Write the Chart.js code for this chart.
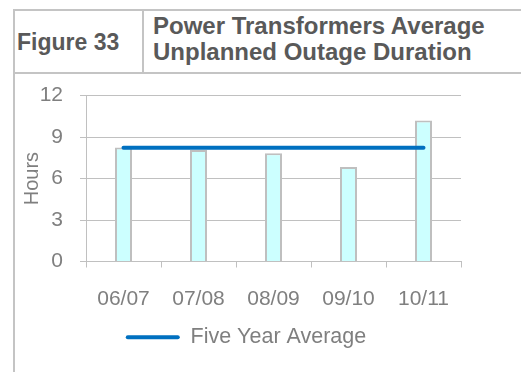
<!DOCTYPE html>
<html>
<head>
<meta charset="utf-8">
<script src="https://cdn.jsdelivr.net/npm/chart.js@4"></script>
<style>
  html, body { margin: 0; padding: 0; background: #fff; }
  body { width: 521px; height: 372px; position: relative; overflow: hidden; font-family: "Liberation Sans", Arial, sans-serif; }
  .rule { position: absolute; background: #c4c4c4; }
  .head { position: absolute; color: #595959; font-weight: bold; font-size: 23px; line-height: 26px; white-space: nowrap; }
  /* canvas is transparent, so it may overlap the header rule above it */
  #chartBox { position: absolute; left: 15px; top: 66px; width: 462px; height: 306px; }
</style>
</head>
<body>
<!-- header table lines -->
<div class="rule" style="left:14px; top:9px; width:507px; height:2px;"></div>
<div class="rule" style="left:14px; top:72px; width:507px; height:2px;"></div>
<div class="rule" style="left:13px; top:9px; width:2px; height:363px;"></div>
<div class="rule" style="left:142px; top:9px; width:2px; height:65px;"></div>
<div class="head" style="left:17px; top:29px;">Figure 33</div>
<div class="head" style="left:153px; top:13px; font-size:24px;">Power Transformers Average<br>Unplanned Outage Duration</div>

<div id="chartBox"><canvas id="outageChart" width="462" height="306"></canvas></div>

<script>
const years = ["06/07", "07/08", "08/09", "09/10", "10/11"];
const outageHours = [8.24, 8.07, 7.83, 6.83, 10.2];
const fiveYearAverage = [8.23, 8.23, 8.23, 8.23, 8.23];
const hourTicks = [0, 3, 6, 9, 12];

const greyText = "#7f7f7f";
const gridGrey = "#c0c0c0";
const fontFamily = "'Liberation Sans', Arial, sans-serif";

const ctx = document.getElementById("outageChart").getContext("2d");

new Chart(ctx, {
    type: "bar",
    data: {
        labels: years,
        datasets: [
            {
                type: "line",
                label: "Five Year Average",
                data: fiveYearAverage,
                borderColor: "#0070c0",
                backgroundColor: "#0070c0",
                borderWidth: 4,
                borderCapStyle: "round",
                pointRadius: 0,
                order: 0
            },
            {
                label: "Outage Duration",
                data: outageHours,
                backgroundColor: "#ccffff",
                borderColor: "#bfbfbf",
                borderWidth: 2,
                categoryPercentage: 1,
                barPercentage: 0.227,
                order: 1
            }
        ]
    },
    options: {
        responsive: false,
        animation: false,
        layout: { padding: { top: 0, right: 0, bottom: 14, left: 0 } },
        plugins: {
            tooltip: { enabled: false },
            legend: {
                position: "bottom",
                labels: {
                    color: greyText,
                    font: { family: fontFamily, size: 21.5 },
                    boxWidth: 54,
                    boxHeight: 4,
                    padding: 10,
                    generateLabels: () => [{
                        text: "Five Year Average",
                        fillStyle: "#0070c0",
                        strokeStyle: "#0070c0",
                        lineWidth: 0,
                        borderRadius: 2,
                        fontColor: greyText,
                        datasetIndex: 0
                    }]
                }
            }
        },
        scales: {
            x: {
                afterFit: (scale) => { scale.height = 55; },
                grid: {
                    offset: true,
                    drawOnChartArea: false,
                    drawTicks: true,
                    tickLength: 6,
                    color: gridGrey
                },
                border: { display: true, color: gridGrey, width: 1 },
                ticks: {
                    color: greyText,
                    font: { family: fontFamily, size: 21 },
                    padding: 19,
                    maxRotation: 0
                }
            },
            y: {
                min: 0,
                max: 12,
                afterBuildTicks: (scale) => {
                    scale.ticks = hourTicks.map(v => ({ value: v }));
                },
                afterFit: (scale) => { scale.width = 71; },
                grid: {
                    color: gridGrey,
                    tickLength: 6,
                    lineWidth: 1
                },
                border: { display: true, color: gridGrey, width: 1 },
                ticks: {
                    color: greyText,
                    font: { family: fontFamily, size: 21 },
                    padding: 17
                },
                title: {
                    display: true,
                    text: "Hours",
                    color: greyText,
                    font: { family: fontFamily, size: 20 },
                    padding: { top: 5, bottom: 0 }
                }
            },
            // empty right-hand gutter; keeps the plot narrower than the legend row
            gutter: {
                type: "linear",
                axis: "y",
                position: "right",
                grid: { display: false },
                border: { display: false },
                ticks: { display: false },
                afterFit: (scale) => { scale.width = 16; }
            }
        }
    }
});
</script>
</body>
</html>
